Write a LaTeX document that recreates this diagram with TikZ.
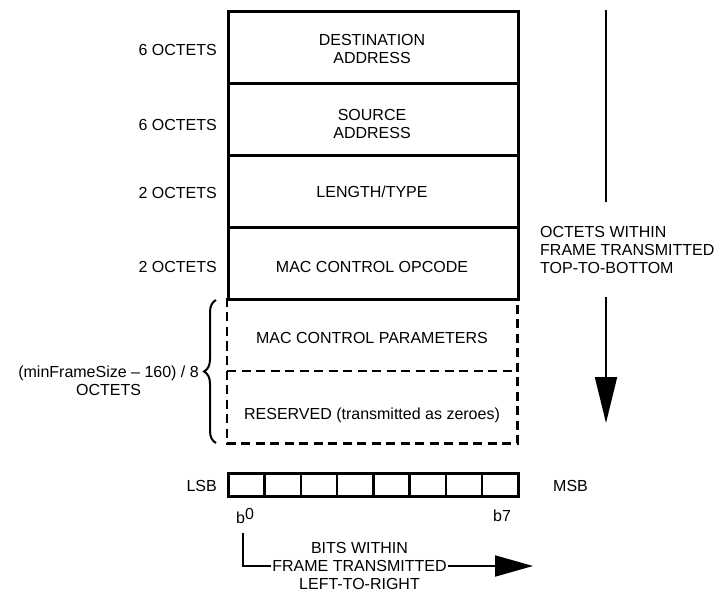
\documentclass[tikz,border=0pt]{standalone}
\usepackage{fontspec}
\setmainfont{Liberation Sans}
\usetikzlibrary{arrows.meta,decorations.pathreplacing}
\begin{document}
\begin{tikzpicture}[x=1pt,y=-1pt,
  every node/.style={font=\fontsize{16}{18}\selectfont, inner sep=0pt},
  field/.style={draw, line width=2.8pt, minimum width=290pt, minimum height=72pt, anchor=north west},
  openfield/.style={minimum width=290pt, minimum height=72.5pt, anchor=north west},
  dashline/.style={line width=2.6pt, dash pattern=on 9pt off 5.5pt},
  bitcell/.style={draw, line width=2.5pt, minimum width=36.25pt, minimum height=23pt, anchor=north west},
  sizelabel/.style={anchor=base east},
  flow/.style={line width=2pt},
  note/.style={align=center},
  bigtip/.style={-{Triangle[width=22pt,length=46pt]}},
  smalltip/.style={-{Triangle[width=21pt,length=38pt]}}
]
\useasboundingbox (0,0) rectangle (717,593);

% frame fields
\node[field] (dst) at (227,10) {};
\node[field] (src) at (227,82) {};
\node[field] (len) at (227,154) {};
\node[field] (opc) at (227,226) {};
\node[openfield] (par) at (227,298) {};
\node[openfield] (res) at (227,370.5) {};
\draw[dashline] (par.north west) -- (res.south west) -- (res.south east) -- (par.north east);
\draw[dashline] (par.south west) -- (par.south east);

% field texts
\node[note] (tdst) at (372,49) {DESTINATION\\ADDRESS};
\node[note] (tsrc) at (372,124) {SOURCE\\ADDRESS};
\node[anchor=base] (tlen) at (372,198) {LENGTH/TYPE};
\node[anchor=base] (topc) at (372,273) {MAC CONTROL OPCODE};
\node[anchor=base] (tpar) at (372,344) {MAC CONTROL PARAMETERS};
\node[anchor=base] (tres) at (372,419) {RESERVED (transmitted as zeroes)};

% size labels
\node[sizelabel] (s1) at (217,56) {6 OCTETS};
\node[sizelabel] (s2) at (217,131) {6 OCTETS};
\node[sizelabel] (s3) at (217,199) {2 OCTETS};
\node[sizelabel] (s4) at (217,273) {2 OCTETS};

% brace
\coordinate (brbot) at (216,443);
\coordinate (brtop) at (216,300);
\draw[flow, decorate, decoration={brace, amplitude=12pt}] (brbot) -- (brtop);
\node[note, anchor=east] (sz5) at (199,381) {(minFrameSize -- 160) / 8\\OCTETS};

% right arrow
\coordinate (vtop) at (606,10);
\coordinate (vstop) at (606,202);
\coordinate (vres) at (606,297);
\coordinate (vtip) at (606,423);
\draw[flow] (vtop) -- (vstop);
\draw[flow, bigtip] (vres) -- (vtip);
\node[align=left, anchor=west] (rnote) at (540,250) {OCTETS WITHIN\\FRAME TRANSMITTED\\TOP-TO-BOTTOM};

% bits
\foreach \i in {0,...,7}
  \node[bitcell] (bit\i) at ({227+36.25*\i},472) {};
\node[anchor=base east] (lsb) at (217,491) {LSB};
\node[anchor=base west] (msb) at (553,491) {MSB};
\node[anchor=base west] (b0) at (236,523) {b\raisebox{4pt}{0}};
\node[anchor=base west] (b7) at (493,521) {b7};

% bottom arrow
\node[note, inner xsep=1.5pt] (bnote) at (359.5,566) {BITS WITHIN\\FRAME TRANSMITTED\\LEFT-TO-RIGHT};
\coordinate (bstart) at (243,533);
\coordinate (btip) at (533,566);
\draw[flow] (bstart) |- (bnote.west);
\draw[flow, smalltip] (bnote.east) -- (bnote.east -| btip);
\end{tikzpicture}
\end{document}
